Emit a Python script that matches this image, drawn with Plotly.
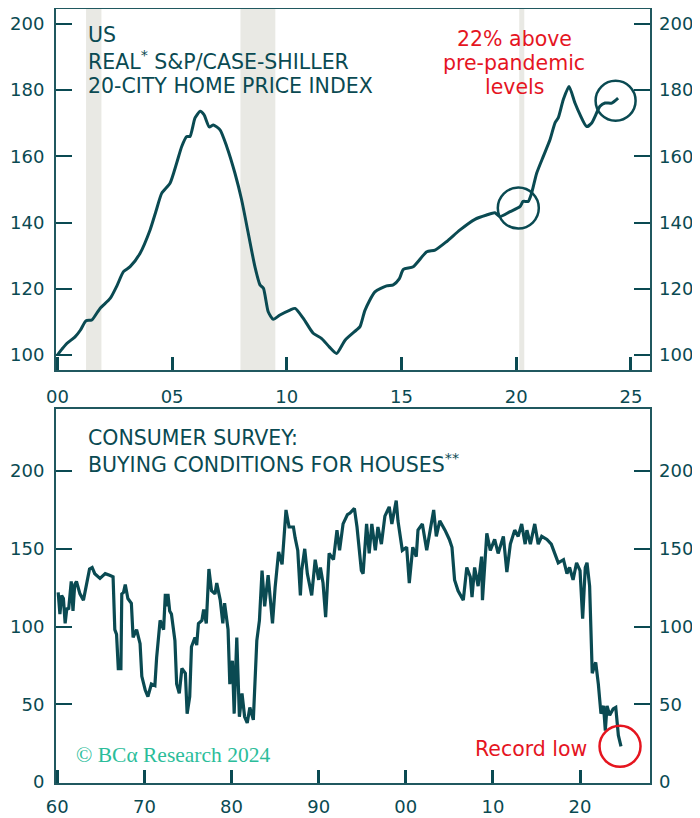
import plotly.graph_objects as go

# ---------------- data ----------------
hpi_years = [2000.0, 2000.2, 2000.41, 2000.77, 2001.0, 2001.25, 2001.5, 2001.86, 2002.3, 2002.6,
             2002.88, 2003.17, 2003.6, 2004.04, 2004.3, 2004.55, 2004.91, 2005.2, 2005.42, 2005.64,
             2005.78, 2006.0, 2006.22, 2006.39, 2006.62, 2006.8, 2007.09, 2007.38, 2007.74, 2008.03,
             2008.32, 2008.61, 2008.83, 2008.98, 2009.19, 2009.41, 2009.7, 2010.14, 2010.36, 2010.72,
             2011.15, 2011.52, 2011.85, 2012.17, 2012.54, 2013.04, 2013.19, 2013.41, 2013.84, 2014.35,
             2014.64, 2014.9, 2015.08, 2015.51, 2016.1, 2016.46, 2016.97, 2017.55, 2018.2, 2018.71,
             2019.07, 2019.29, 2019.73, 2020.16, 2020.3, 2020.52, 2020.67, 2020.89, 2021.18, 2021.47,
             2021.69, 2021.83, 2022.05, 2022.3, 2022.56, 2022.78, 2023.07, 2023.29, 2023.65, 2023.87,
             2024.16, 2024.44]
hpi_values = [100.0, 101.8, 103.5, 105.5, 107.5, 110.4, 110.6, 114.1, 117.1, 121.0,
              125.2, 126.7, 130.7, 137.8, 143.5, 148.9, 151.9, 158.0, 163.0, 166.0,
              166.0, 171.6, 173.6, 172.6, 168.9, 169.5, 168.0, 163.0, 154.9, 146.9,
              136.8, 126.7, 121.2, 120.2, 113.1, 110.8, 112.1, 113.6, 114.1, 111.1,
              106.6, 105.0, 102.5, 100.5, 104.5, 107.6, 108.6, 113.6, 119.1, 120.9,
              121.2, 123.0, 125.9, 126.7, 131.2, 131.7, 134.3, 137.8, 141.0, 142.3,
              143.0, 141.8, 143.3, 144.8, 146.4, 146.4, 148.9, 154.9, 160.0, 165.0,
              170.1, 171.6, 177.1, 181.1, 176.1, 172.6, 169.0, 170.1, 175.1, 176.1,
              176.1, 177.6]

survey_years = [1960.1, 1960.3, 1960.5, 1960.7, 1960.9, 1961.1, 1961.3, 1961.6, 1961.8, 1962.0,
                1962.2, 1962.6, 1963.0, 1963.4, 1963.7, 1964.0, 1964.3, 1964.9, 1965.5, 1966.0,
                1966.4, 1966.6, 1966.8, 1967.0, 1967.3, 1967.4, 1967.6, 1967.8, 1968.1, 1968.5,
                1968.7, 1969.1, 1969.5, 1969.7, 1970.1, 1970.4, 1970.8, 1971.2, 1971.4, 1971.8,
                1972.2, 1972.4, 1972.5, 1972.7, 1972.9, 1973.1, 1973.5, 1973.7, 1974.0, 1974.3,
                1974.7, 1974.9, 1975.2, 1975.4, 1975.8, 1976.0, 1976.2, 1976.6, 1976.8, 1977.1,
                1977.4, 1977.7, 1978.1, 1978.3, 1978.7, 1979.0, 1979.2, 1979.6, 1979.8, 1980.1,
                1980.3, 1980.6, 1980.9, 1981.2, 1981.5, 1981.8, 1982.1, 1982.3, 1982.5, 1982.9,
                1983.2, 1983.5, 1983.8, 1984.2, 1984.7, 1985.0, 1985.4, 1985.8, 1986.25, 1986.6,
                1987.1, 1987.3, 1987.6, 1987.9, 1988.05, 1988.4, 1988.7, 1989.2, 1989.6, 1990.0,
                1990.2, 1990.5, 1990.8, 1991.2, 1991.7, 1992.1, 1992.4, 1992.8, 1993.3, 1993.6,
                1994.1, 1994.4, 1994.9, 1995.1, 1995.5, 1995.8, 1996.1, 1996.5, 1996.8, 1997.2,
                1997.6, 1998.1, 1998.4, 1998.9, 1999.1, 1999.6, 2000.1, 2000.4, 2000.8, 2001.2,
                2001.4, 2001.9, 2002.4, 2002.8, 2003.2, 2003.5, 2003.9, 2004.5, 2005.0, 2005.3,
                2005.6, 2006.0, 2006.6, 2007.0, 2007.4, 2007.6, 2007.9, 2008.3, 2008.7, 2008.8,
                2009.1, 2009.3, 2009.7, 2010.2, 2010.6, 2011.2, 2011.6, 2012.0, 2012.5, 2012.9,
                2013.3, 2013.7, 2013.9, 2014.3, 2014.8, 2015.2, 2015.6, 2016.2, 2016.7, 2017.1,
                2017.5, 2018.1, 2018.5, 2018.8, 2019.2, 2019.6, 2020.0, 2020.3, 2020.6, 2020.8,
                2021.1, 2021.4, 2021.8, 2022.1, 2022.4, 2022.7, 2022.9, 2023.1, 2023.4, 2023.8,
                2024.1, 2024.4, 2024.7]
survey_values = [122, 108, 120, 118, 102, 112, 111, 129, 110, 127,
                 129, 121, 117, 130, 137, 138, 134, 131, 134, 133,
                 132, 98, 95, 73, 73, 121, 122, 127, 118, 115,
                 93, 98, 89, 68, 59, 55, 63, 62, 80, 104,
                 98, 121, 113, 121, 110, 108, 91, 63, 57, 73,
                 70, 44, 55, 87, 93, 88, 102, 104, 111, 102,
                 137, 123, 121, 128, 117, 102, 115, 98, 63, 78,
                 44, 93, 42, 57, 42, 38, 48, 44, 40, 91,
                 104, 136, 113, 133, 102, 125, 148, 140, 175, 164,
                 164, 157, 149, 120, 136, 150, 134, 120, 143, 130,
                 138, 128, 106, 147, 143, 162, 149, 166, 172, 173,
                 176, 164, 136, 134, 166, 147, 166, 149, 164, 153,
                 171, 177, 166, 181, 168, 149, 151, 128, 151, 145,
                 162, 166, 149, 162, 175, 158, 168, 162, 156, 151,
                 130, 123, 117, 138, 132, 119, 138, 126, 145, 117,
                 143, 160, 149, 156, 147, 158, 135, 153, 162, 158,
                 166, 153, 162, 153, 166, 153, 158, 156, 153, 147,
                 141, 143, 134, 138, 130, 141, 136, 105, 138, 141,
                 126, 70, 77, 63, 44, 49, 33, 49, 43, 47,
                 48, 30, 23]

recessions = [(2001.25, 2001.92), (2007.98, 2009.5), (2020.13, 2020.35)]

top_ticks = [2000, 2005, 2010, 2015, 2020, 2025]
top_ticktext = ["00", "05", "10", "15", "20", "25"]
bot_ticks = [1960, 1970, 1980, 1990, 2000, 2010, 2020]
bot_ticktext = ["60", "70", "80", "90", "00", "10", "20"]

# ---------------- styles ----------------
TEAL = "#0a4a52"
FRAME = "#20585f"
RED = "#e5151f"
MINT = "#2bbd9a"
SHADE = "#e9e9e4"
FONT = "DejaVu Sans"

# page offset of the default HTML body margin
OFF = 8
W, HGT = 700 - OFF, 818 - OFF
ML, MR, MT, MB = 48, 50, 1, 35

fig = go.Figure()
fig.add_trace(go.Scatter(x=hpi_years, y=hpi_values, mode="lines",
                         line=dict(color=TEAL, width=3, shape="spline", smoothing=0.6),
                         xaxis="x", yaxis="y", showlegend=False, hoverinfo="skip"))
fig.add_trace(go.Scatter(x=hpi_years, y=hpi_values, mode="lines", opacity=0,
                         xaxis="x", yaxis="y3", showlegend=False, hoverinfo="skip"))
fig.add_trace(go.Scatter(x=survey_years, y=survey_values, mode="lines",
                         line=dict(color=TEAL, width=3.2),
                         xaxis="x2", yaxis="y2", showlegend=False, hoverinfo="skip"))
fig.add_trace(go.Scatter(x=survey_years, y=survey_values, mode="lines", opacity=0,
                         xaxis="x2", yaxis="y4", showlegend=False, hoverinfo="skip"))

tickfont = dict(family=FONT, size=18, color=TEAL)
xcommon = dict(showline=True, linecolor=FRAME, linewidth=2, mirror=True, ticks="inside",
               ticklen=13, tickwidth=2.5, tickcolor=TEAL, tickfont=tickfont, showgrid=False,
               zeroline=False)
ycommon = dict(showline=True, linecolor=FRAME, linewidth=2, mirror=True, ticks="inside",
               ticklen=16, tickwidth=1.5, tickcolor=TEAL, tickfont=tickfont, showgrid=False,
               zeroline=False, ticklabelstandoff=6)
yright = dict(showline=False, ticks="inside", ticklen=16, tickwidth=1.5, tickcolor=TEAL,
              tickfont=tickfont, showgrid=False, zeroline=False, ticklabelstandoff=8)

PH = HGT - MT - MB
def py2paper(py):
    return (HGT - MB - (py - OFF)) / PH
def px2paper(px):
    return (px - OFF - ML) / (W - ML - MR)

top_dom = [py2paper(370), 1.0]
bot_dom = [0.0, py2paper(409.3)]

fig.update_layout(
    width=W, height=HGT,
    margin=dict(l=ML, r=MR, t=MT, b=MB, autoexpand=False),
    paper_bgcolor="white", plot_bgcolor="white",
    xaxis=dict(domain=[0, 1], anchor="y", range=[1999.94, 2025.83],
               tickvals=top_ticks, ticktext=top_ticktext, ticklabelstandoff=9, **xcommon),
    yaxis=dict(domain=top_dom, anchor="x", range=[95.5, 204.5],
               tickvals=[100, 120, 140, 160, 180, 200], **ycommon),
    yaxis3=dict(overlaying="y", side="right", anchor="x", range=[95.5, 204.5],
                tickvals=[100, 120, 140, 160, 180, 200], **yright),
    xaxis2=dict(domain=[0, 1], anchor="y2", range=[1959.85, 2028.03],
                tickvals=bot_ticks, ticktext=bot_ticktext, ticklabelstandoff=6, **xcommon),
    yaxis2=dict(domain=bot_dom, anchor="x2", range=[-0.6, 239.7],
                tickvals=[0, 50, 100, 150, 200], **ycommon),
    yaxis4=dict(overlaying="y2", side="right", anchor="x2", range=[-0.6, 239.7],
                tickvals=[0, 50, 100, 150, 200], **yright),
)

# recession shading
for a, b in recessions:
    fig.add_shape(type="rect", xref="x", yref="y domain", x0=a, x1=b, y0=0, y1=1,
                  fillcolor=SHADE, line=dict(width=0), layer="below")

# highlight circles (pixel-sized, anchored at data points)
def circle(xref, yref, xc, yc, r, color):
    fig.add_shape(type="circle", xref=xref, yref=yref, xsizemode="pixel", ysizemode="pixel",
                  xanchor=xc, yanchor=yc, x0=-r, x1=r, y0=-r, y1=r,
                  line=dict(color=color, width=2.5), fillcolor="rgba(0,0,0,0)")

circle("x", "y", 2020.09, 144.4, 20.5, TEAL)
circle("x", "y", 2024.33, 176.8, 20, TEAL)
circle("x2", "y2", 2024.59, 23, 20.5, RED)

def txt(text, px, py, color=TEAL, size=20.5, xanchor="left", family=FONT):
    fig.add_annotation(text=text, x=px2paper(px), y=py2paper(py), xref="paper", yref="paper",
                       xanchor=xanchor, yanchor="middle", showarrow=False,
                       font=dict(family=family, size=size, color=color))

txt("US", 86, 35)
txt("REAL<sup>*</sup> S&P/CASE-SHILLER", 86, 60)
txt("20-CITY HOME PRICE INDEX", 86, 86)
txt("22% above", 514, 39, RED, xanchor="center")
txt("pre-pandemic", 514, 63, RED, xanchor="center")
txt("levels", 514, 87, RED, xanchor="center")
txt("CONSUMER SURVEY:", 86, 438)
txt("BUYING CONDITIONS FOR HOUSES<sup>**</sup>", 86, 463)
txt("Record low", 531, 749, RED, xanchor="center")
txt("© BCα Research 2024", 74, 755, MINT, size=21.5, family="Liberation Serif")

fig.write_html("out.html")
